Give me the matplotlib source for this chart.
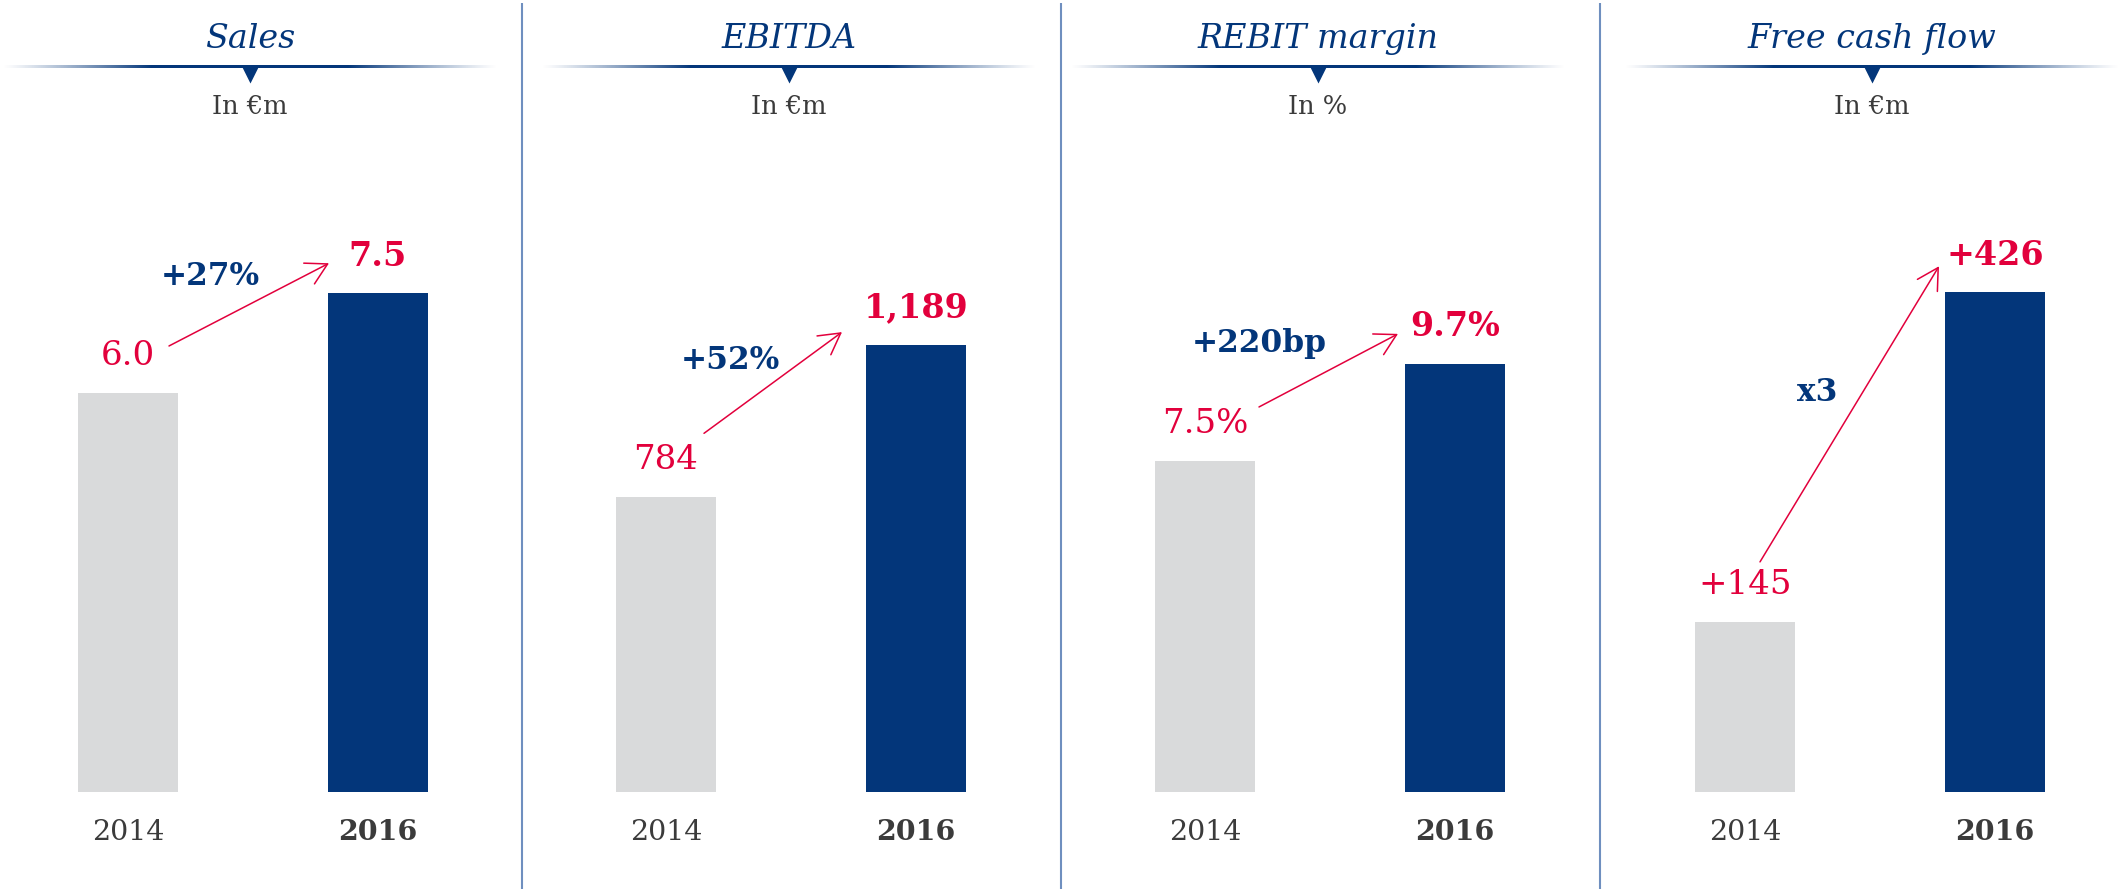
import numpy as np
import matplotlib.pyplot as plt

# panel data
titles = ['Sales', 'EBITDA', 'REBIT margin', 'Free cash flow']
units = ['In €m', 'In €m', 'In %', 'In €m']
years = ['2014', '2016']
values_2014 = [6.0, 784, 7.5, 145]
values_2016 = [7.5, 1189, 9.7, 426]
labels_2014 = ['6.0', '784', '7.5%', '+145']
labels_2016 = ['7.5', '1,189', '9.7%', '+426']
changes = ['+27%', '+52%', '+220bp', 'x3']

# colours
NAVY = '#03367a'
GREY = '#d9dadb'
RED = '#e2003c'
TEXT = '#3b3b3b'
SEP = '#6f8fbf'

# layout (pixels)
W, H = 2119, 889
panel_cx = [253, 791, 1330, 1870]
title_cx = [250, 789, 1318, 1872]
y_top = [8.15, 1442, 12.28, 462]
# arrow start relative to 2014 bar top, end relative to 2016 bar top (px, up)
arrow_start = [(41, 47), (38, 64), (54, 54), (15, 60)]
arrow_end = [(-49, 30), (-74, 13), (-57, 30), (-56, 26)]
change_off = [(-39, 28), (-43, 22), (-69, 27), (-32, 22)]

plt.rcParams['font.family'] = ['DejaVu Serif']
fig = plt.figure(figsize=(W / 100, H / 100), dpi=100)

# background layer for separators and headers
ov = fig.add_axes([0, 0, 1, 1], zorder=-1)
ov.axis('off')

for i in range(3):
    x = (panel_cx[i] + panel_cx[i + 1]) / 2
    ov.plot([x, x], [3, H], color=SEP, lw=1.5, solid_capstyle='butt')

navy_rgb = np.array([3, 54, 122]) / 255
t = np.linspace(-1, 1, 400)
alpha = np.clip((1 - np.abs(t)) / 0.6, 0, 1) ** 1.2
grad = np.zeros((1, len(t), 4))
grad[0, :, :3] = navy_rgb
grad[0, :, 3] = alpha

for i, cx in enumerate(title_cx):
    ov.imshow(grad, extent=(cx - 248, cx + 248, 68.5, 65.5), aspect='auto',
              interpolation='bilinear')
    ov.plot(cx, 75, marker='v', markersize=12, color=NAVY, mec='none')
    ov.text(cx, 39, titles[i], ha='center', va='center', style='italic',
            color=NAVY, fontsize=24)
    ov.text(cx, 107, units[i], ha='center', va='center', color=TEXT,
            fontsize=18.5)

ov.set_xlim(0, W)
ov.set_ylim(H, 0)

for i, cx in enumerate(panel_cx):
    ax = fig.add_axes([(cx - 270) / W, (H - 792) / H, 540 / W, 542 / H])
    ax.set_facecolor('none')
    ax.bar([0, 1], [values_2014[i], values_2016[i]], width=0.4,
           color=[GREY, NAVY])
    ax.set_xlim(-0.58, 1.58)
    ax.set_ylim(0, y_top[i])
    ax.axis('off')

    ax.annotate(labels_2014[i], (0, values_2014[i]), xytext=(0, 37),
                textcoords='offset pixels', ha='center', va='center',
                color=RED, fontsize=24.5)
    ax.annotate(labels_2016[i], (1, values_2016[i]), xytext=(0, 37),
                textcoords='offset pixels', ha='center', va='center',
                color=RED, fontsize=24, fontweight='bold')

    # year labels
    ax.text(0, -41 / 542, years[0], transform=ax.get_xaxis_transform(),
            ha='center', va='center', color=TEXT, fontsize=20.5)
    ax.text(1, -41 / 542, years[1], transform=ax.get_xaxis_transform(),
            ha='center', va='center', color=TEXT, fontsize=20.5,
            fontweight='bold')

    # growth arrow
    p0 = ax.transData.transform((0, values_2014[i])) + np.array(arrow_start[i])
    p1 = ax.transData.transform((1, values_2016[i])) + np.array(arrow_end[i])
    ax.annotate('', xy=p1, xytext=p0, xycoords='figure pixels',
                textcoords='figure pixels', annotation_clip=False,
                arrowprops=dict(arrowstyle='->,head_length=0.75,head_width=0.42',
                                mutation_scale=20, color=RED, lw=1.1,
                                shrinkA=0, shrinkB=0))
    mid = (p0 + p1) / 2 + np.array(change_off[i])
    ax.annotate(changes[i], xy=mid, xycoords='figure pixels',
                annotation_clip=False, ha='center', va='center',
                color=NAVY, fontsize=22.5, fontweight='bold')

fig.savefig('out.png', dpi=100)
